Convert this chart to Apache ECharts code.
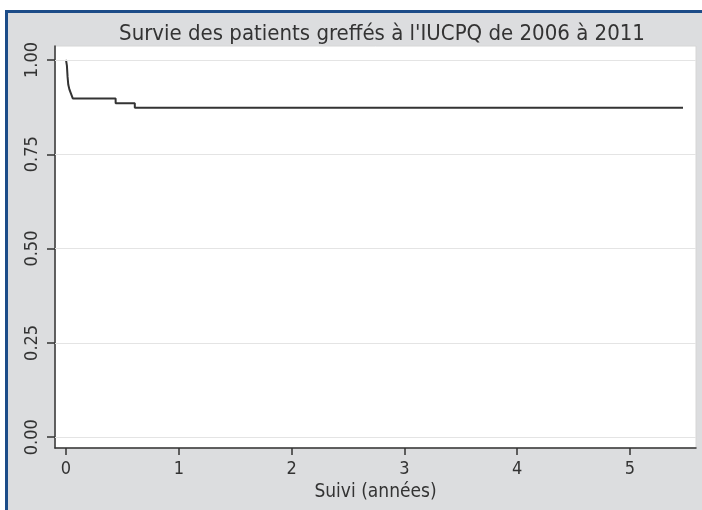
<!DOCTYPE html>
<html>
<head>
<meta charset="utf-8">
<script src="https://cdn.jsdelivr.net/npm/echarts@6/dist/echarts.min.js"></script>
<style>
  html, body { margin:0; padding:0; background:#fff; }
  #frame { position:absolute; left:5px; top:10px; right:0; bottom:0;
           border-top:3px solid #1c4c88; border-left:3px solid #1c4c88; background:#dcdddf; }
  #chart { position:absolute; left:0; top:0; width:702px; height:510px; }
</style>
</head>
<body>
<div id="frame"></div>
<div id="chart"></div>
<script>
// Kaplan-Meier survival estimates (time in years, survival probability)
const times    = [0, 0.008, 0.014, 0.02, 0.03, 0.045, 0.06, 0.44, 0.61, 5.47];
const survival = [1.0, 0.985, 0.955, 0.935, 0.922, 0.91, 0.898, 0.885, 0.873, 0.873];
const xTicks = [0, 1, 2, 3, 4, 5];
const yTicks = [0, 0.25, 0.5, 0.75, 1];
const titleText = "Survie des patients greffés à l'IUCPQ de 2006 à 2011";
const xName = "Suivi (années)";

const FONT = "'Liberation Sans Narrow', 'DejaVu Sans Condensed', sans-serif";
const chart = echarts.init(document.getElementById('chart'), null, {renderer:'canvas'});
chart.setOption({
  backgroundColor: 'transparent',
  animation: false,
  title: {
    text: titleText, left: 377, textAlign: 'center', top: 18,
    textStyle: { fontFamily: FONT, fontSize: 22, fontWeight: 'normal', color: '#333' }
  },
  grid: { left: 55, right: 6, top: 46, bottom: 62, show: true,
          backgroundColor: '#ffffff', borderColor: '#d6d6d6', borderWidth: 1 },
  xAxis: {
    type: 'value', min: -0.0975, max: 5.585,
    name: xName, nameLocation: 'middle', nameGap: 28,
    nameTextStyle: { fontFamily: FONT, fontSize: 19, color: '#333' },
    axisLine: { show: true, onZero: false, lineStyle: { color: '#333', width: 1.5 } },
    axisTick: { show: true, customValues: xTicks, length: 7, lineStyle: { color: '#333', width: 1.5 } },
    axisLabel: { customValues: xTicks, fontFamily: FONT, fontSize: 18, color: '#333', margin: 12 },
    splitLine: { show: false }
  },
  yAxis: {
    type: 'value', min: -0.0286, max: 1.037,
    axisLine: { show: true, onZero: false, lineStyle: { color: '#333', width: 1.5 } },
    axisTick: { show: true, customValues: yTicks, length: 8, lineStyle: { color: '#333', width: 1.5 } },
    axisLabel: { customValues: yTicks, rotate: 90, fontFamily: FONT, fontSize: 18, color: '#333', margin: 14,
                 formatter: v => v.toFixed(2) },
    splitLine: { show: false }
  },
  series: [{
    type: 'line', step: 'end', showSymbol: false, symbol: 'none',
    data: times.map((t, i) => [t, survival[i]]),
    lineStyle: { color: '#333', width: 2 },
    markLine: {
      silent: true, symbol: 'none', label: { show: false },
      lineStyle: { color: '#e4e4e4', width: 1.2, type: 'solid' },
      data: yTicks.map(v => ({ yAxis: v }))
    },
    z: 3
  }]
});
</script>
</body>
</html>
